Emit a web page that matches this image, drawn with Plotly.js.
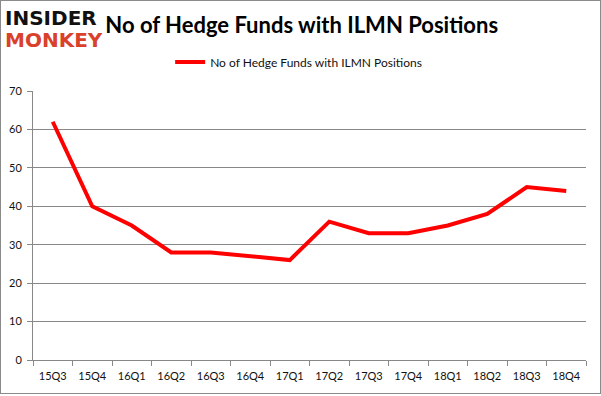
<!DOCTYPE html>
<html>
<head>
<meta charset="utf-8">
<script src="https://cdn.plot.ly/plotly-3.0.1.min.js"></script>
<style>
html,body{margin:0;padding:0;background:#fff;}
#wrap{position:relative;width:601px;height:396px;}
#chart{width:601px;height:396px;}
#border{position:absolute;left:0;top:0;width:599px;height:392px;border:1px solid #8a8a8a;pointer-events:none;}
</style>
</head>
<body>
<div id="wrap"><div id="chart"></div><div id="border"></div></div>
<script>
const quarters = ["15Q3","15Q4","16Q1","16Q2","16Q3","16Q4","17Q1","17Q2","17Q3","17Q4","18Q1","18Q2","18Q3","18Q4"];
const hedgeFunds = [62,40,35,28,28,27,26,36,33,33,35,38,45,44];
const seriesName = "No of Hedge Funds with ILMN Positions";
const yTicks = [0,10,20,30,40,50,60,70];

const trace = {
  x: quarters, y: hedgeFunds, type: "scatter", mode: "lines", name: seriesName,
  line: {color: "#ff0000", width: 4}
};
const layout = {
  width: 601, height: 396,
  margin: {l: 33, r: 15, t: 91, b: 36},
  paper_bgcolor: "#fff", plot_bgcolor: "#fff",
  font: {family: "Lato, 'Open Sans', sans-serif", color: "#111", size: 11},
  title: {text: "<b>No of Hedge Funds with ILMN Positions</b>", font: {family: "Lato, sans-serif", size: 22, color: "#000"}, x: 0.502, xanchor: "center", y: 0.935, yanchor: "middle"},
  showlegend: true,
  legend: {orientation: "h", x: 0.248, xanchor: "left", y: 1.108, yanchor: "middle", font: {size: 12, color: "#111"}, bgcolor: "rgba(0,0,0,0)"},
  xaxis: {type: "category", range: [-0.5, quarters.length - 0.5], tickson: "boundaries", ticks: "outside", ticklen: 5, tickcolor: "#888", ticklabelstandoff: 6, showline: true, linecolor: "#888", linewidth: 1, showgrid: false, zeroline: false, fixedrange: true, tickfont: {size: 11}},
  yaxis: {range: [0, 70], tickvals: yTicks, ticks: "outside", ticklen: 5, tickcolor: "#888", ticklabelstandoff: 3, showline: true, linecolor: "#888", linewidth: 1, showgrid: true, gridcolor: "#888", gridwidth: 1, zeroline: false, fixedrange: true, tickfont: {size: 11}},
  annotations: [
    {text: "<b>INSIDER</b>", xref: "paper", yref: "paper", x: -0.054, y: 1.27, xanchor: "left", yanchor: "middle", showarrow: false, font: {family: "'DejaVu Sans', sans-serif", size: 20, color: "#111"}},
    {text: "<b>MONKEY</b>", xref: "paper", yref: "paper", x: -0.054, y: 1.19, xanchor: "left", yanchor: "middle", showarrow: false, font: {family: "'DejaVu Sans', sans-serif", size: 20, color: "#d9412b"}}
  ]
};
Plotly.newPlot("chart", [trace], layout, {displayModeBar: false, staticPlot: true});
</script>
</body>
</html>
